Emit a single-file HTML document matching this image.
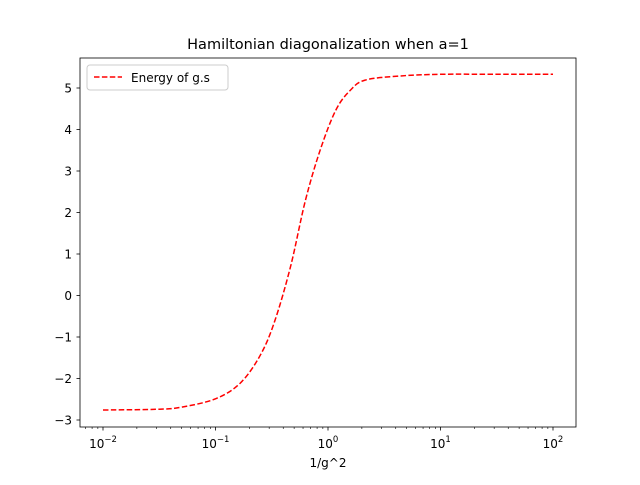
<!DOCTYPE html>
<html><head><meta charset="utf-8"><style>
body{margin:0;background:#fff;}
svg text{font-family:"DejaVu Sans","Liberation Sans",sans-serif;}
</style></head><body>
<svg width="640" height="480" xmlns="http://www.w3.org/2000/svg">
<rect width="640" height="480" fill="#fff"/>
<text x="328" y="49" font-size="14.5" text-anchor="middle">Hamiltonian diagonalization when a=1</text>
<g id="axes"></g>
<rect x="80" y="58" width="496" height="369" fill="none" stroke="#000" stroke-width="0.8"/>
<text x="328" y="467" font-size="12" text-anchor="middle">1/g^2</text>
<g>
<rect x="87" y="65" width="141" height="25" rx="3" fill="#fff" stroke="#ccc"/>
<line x1="94" y1="77" x2="122" y2="77" stroke="red" stroke-width="1.5" stroke-dasharray="5.5,2.4"/>
<text x="131" y="82" font-size="12">Energy of g.s</text>
</g>
</svg>
<script>
const logX=[-2,-1.5,-1.3,-1.0,-0.78,-0.6,-0.47,-0.33,-0.2,-0.07,0.07,0.2,0.33,0.64,1.0,1.5,2];
const energy=[-2.76,-2.74,-2.69,-2.49,-2.11,-1.43,-0.59,0.73,2.3,3.5,4.47,4.95,5.19,5.29,5.33,5.33,5.33];
const xTickExp=[-2,-1,0,1,2];
const yTicks=[-3,-2,-1,0,1,2,3,4,5];
const NS="http://www.w3.org/2000/svg";
const sx=l=>103+(l+2)*112.5;
const sy=v=>88+(5-v)*41.5;
const g=document.getElementById('axes');
function mk(t,a){const e=document.createElementNS(NS,t);for(const k in a)e.setAttribute(k,a[k]);g.appendChild(e);return e;}
xTickExp.forEach(p=>{
 const x=sx(p);
 const t=mk('line',{x1:x,y1:427,x2:x,y2:430.5,stroke:'#000','stroke-width':0.8});
 
 
 const tx=mk('text',{x:x,y:448,'font-size':12,'text-anchor':'middle'});
 
 
 tx.innerHTML='10<tspan dy="-6" font-size="8.5">'+(p<0?'\u2212'+(-p):p)+'</tspan>';
 if(p<2)for(let m=2;m<10;m++){const xm=sx(p+Math.log10(m));
  const mt=mk('line',{x1:xm,y1:427,x2:xm,y2:429,stroke:'#000','stroke-width':0.6});
  
  }
});
[-3,-2].forEach(p=>{for(let m=2;m<10;m++){const xm=sx(p+Math.log10(m));if(xm>80&&p===-3){
 const mt=mk('line',{x1:xm,y1:427,x2:xm,y2:429,stroke:'#000','stroke-width':0.6});
 
 }}});
yTicks.forEach(v=>{
 const y=sy(v);
 const t=mk('line',{x1:76.5,y1:y,x2:80,y2:y,stroke:'#000','stroke-width':0.8});
 
 
 const tx=mk('text',{x:72,y:y+4.5,'font-size':12,'text-anchor':'end'});
 
 
 tx.textContent=v<0?'\u2212'+(-v):v;
});
// smooth curve (Catmull-Rom) through data points
const P=logX.map((l,i)=>[sx(l),sy(energy[i])]);
let d='M'+P[0][0].toFixed(1)+','+P[0][1].toFixed(1);
for(let i=0;i<P.length-1;i++){
 const p0=P[Math.max(i-1,0)],p1=P[i],p2=P[i+1],p3=P[Math.min(i+2,P.length-1)];
 const c1=[p1[0]+(p2[0]-p0[0])/6,p1[1]+(p2[1]-p0[1])/6];
 const c2=[p2[0]-(p3[0]-p1[0])/6,p2[1]-(p3[1]-p1[1])/6];
 d+=' C'+c1.map(v=>v.toFixed(1)).join(',')+' '+c2.map(v=>v.toFixed(1)).join(',')+' '+p2.map(v=>v.toFixed(1)).join(',');
}
const line=mk('path',{d:d,fill:'none',stroke:'red','stroke-width':1.5,'stroke-dasharray':'5.5,2.4'});


</script>
</body></html>
